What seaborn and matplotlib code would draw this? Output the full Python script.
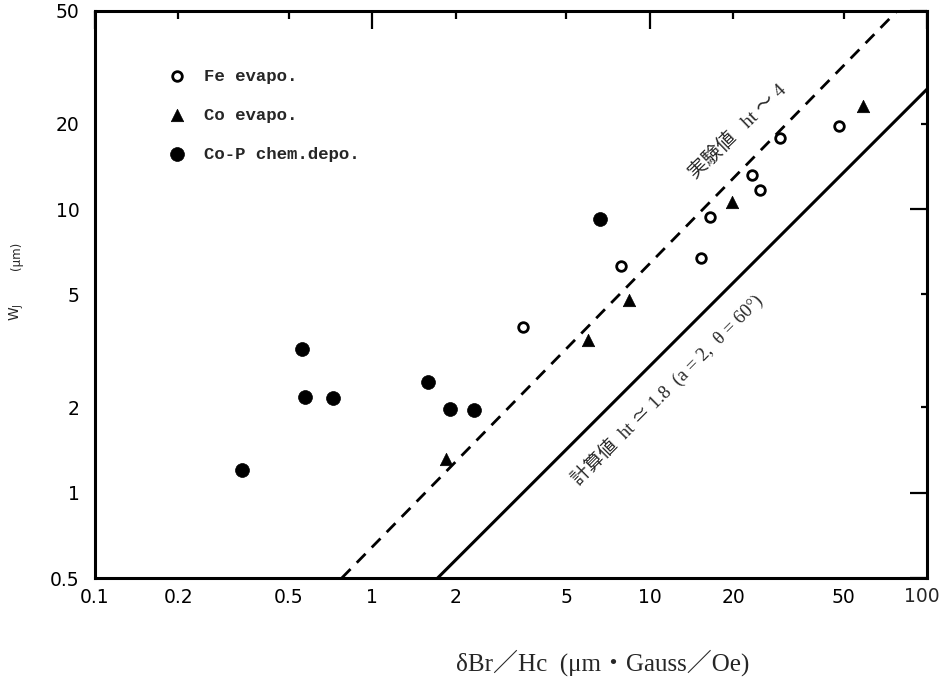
import numpy as np
import pandas as pd
import matplotlib
matplotlib.use("Agg")
import matplotlib.pyplot as plt
import seaborn as sns
from matplotlib.ticker import FixedLocator, FixedFormatter

# ---------------- data ----------------
fe_x = [3.5, 7.9, 15.3, 16.5, 23.3, 24.9, 29.4, 48.1]
fe_y = [3.85, 6.3, 6.7, 9.4, 13.2, 11.7, 17.8, 19.6]

co_x = [1.85, 6.0, 8.4, 19.8, 59.0]
co_y = [1.31, 3.45, 4.8, 10.6, 23.2]

cop_x = [0.34, 0.56, 0.57, 0.72, 1.59, 1.91, 2.33, 6.6]
cop_y = [1.2, 3.2, 2.17, 2.15, 2.45, 1.97, 1.96, 9.2]

exp_line_x = [0.776, 78.0]
exp_line_y = [0.5, 50.0]
calc_line_x = [1.72, 100.0]
calc_line_y = [0.5, 26.5]

series_labels = ["Fe evapo.", "Co evapo.", "Co-P chem.depo."]

x_major = [0.1, 1, 10, 100]
x_minor = [0.2, 0.5, 2, 5, 20, 50]
x_major_labels = ["0.1", "1", "10", ""]
x_last_label = "100"
x_minor_labels = ["0.2", "0.5", "2", "5", "20", "50"]

y_major = [0.5, 1, 10, 50]
y_minor = [2, 5, 20]
y_major_labels = ["0.5", "1", "10", "50"]
y_minor_labels = ["2", "5", "20"]

exp_text = "実験値   ht ～ 4"
calc_text = "計算値  ht ≃ 1.8  (a = 2,  θ = 60°)"
xlabel_text = "δBr／Hc  (μm・Gauss／Oe)"

# ---------------- figure ----------------
sns.set_theme(style="white")
plt.rcParams['font.family'] = ['DejaVu Sans', 'Noto Sans CJK JP']

fig = plt.figure(figsize=(9.4, 6.79), dpi=100)
ax = fig.add_axes([95 / 940, 1 - 578 / 679, 832 / 940, 567 / 679])
ax.set_xscale('log')
ax.set_yscale('log')

fe_df = pd.DataFrame({"x": fe_x, "y": fe_y})
co_df = pd.DataFrame({"x": co_x, "y": co_y})
cop_df = pd.DataFrame({"x": cop_x, "y": cop_y})

sns.lineplot(x=exp_line_x, y=exp_line_y, ax=ax, color='black', lw=2.0,
             dashes=False, linestyle=(0, (4.5, 3.2)), legend=False)
sns.lineplot(x=calc_line_x, y=calc_line_y, ax=ax, color='black', lw=2.2,
             legend=False)

sns.scatterplot(data=fe_df, x="x", y="y", ax=ax, marker='o', s=48,
                facecolor='white', edgecolor='black', linewidth=2.0,
                label=series_labels[0], zorder=5)
sns.scatterplot(data=co_df, x="x", y="y", ax=ax, marker='^', s=80,
                color='black', edgecolor='black', linewidth=0.5,
                label=series_labels[1], zorder=5)
sns.scatterplot(data=cop_df, x="x", y="y", ax=ax, marker='o', s=100,
                color='black', edgecolor='black', linewidth=0.5,
                label=series_labels[2], zorder=5)

ax.set_xlim(0.1, 100)
ax.set_ylim(0.5, 50)
ax.set_xlabel("")
ax.set_ylabel("")

for s in ax.spines.values():
    s.set_visible(True)
    s.set_color('black')
    s.set_linewidth(2.2)

ax.xaxis.set_major_locator(FixedLocator(x_major))
ax.xaxis.set_minor_locator(FixedLocator(x_minor))
ax.xaxis.set_major_formatter(FixedFormatter(x_major_labels))
ax.xaxis.set_minor_formatter(FixedFormatter(x_minor_labels))
ax.yaxis.set_major_locator(FixedLocator(y_major))
ax.yaxis.set_minor_locator(FixedLocator(y_minor))
ax.yaxis.set_major_formatter(FixedFormatter(y_major_labels))
ax.yaxis.set_minor_formatter(FixedFormatter(y_minor_labels))

ax.tick_params(axis='both', which='both', direction='in', top=True, right=True,
               colors='black', width=1.6, labelsize=13.5)
ax.tick_params(axis='x', which='major', length=13, pad=7)
ax.tick_params(axis='x', which='minor', length=6, pad=7)
ax.tick_params(axis='y', which='major', length=12, pad=11)
ax.tick_params(axis='y', which='minor', length=4, pad=11)

# the "100" label sits at the very edge of the figure
fig.text(922 / 940, 1 - 596 / 679, x_last_label, ha='center', va='center',
         fontsize=13.5, family=['DejaVu Sans'])

leg = ax.legend(loc='upper left', bbox_to_anchor=(0.0877, 0.898), frameon=False,
                handlelength=1.0, handletextpad=1.1, labelspacing=1.36,
                borderpad=0, borderaxespad=0,
                prop={'family': 'Liberation Mono', 'size': 12.5, 'weight': 'bold'})

# annotations along the lines
ax.text(20.8, 18.7, exp_text, rotation=44, rotation_mode='anchor',
        ha='center', va='center', fontsize=14,
        family=['Liberation Serif', 'Noto Sans CJK JP', 'DejaVu Sans'])
ax.text(11.6, 2.31, calc_text, rotation=45, rotation_mode='anchor',
        ha='center', va='center', fontsize=13.5,
        family=['Liberation Serif', 'Noto Sans CJK JP', 'DejaVu Sans'])

# axis titles
fig.text(603 / 940, 1 - 663 / 679, xlabel_text, ha='center', va='center',
         fontsize=18, family=['Liberation Serif', 'Noto Sans CJK JP', 'DejaVu Sans'])
fig.text(17 / 940, 1 - 312 / 679, "W$_\\mathregular{J}$", rotation=90,
         ha='center', va='center', fontsize=10, family=['DejaVu Sans'])
fig.text(17 / 940, 1 - 256 / 679, "(μm)", rotation=90,
         ha='center', va='center', fontsize=8.5, family=['DejaVu Sans'])

fig.savefig("out.png", dpi=100, facecolor='white')
